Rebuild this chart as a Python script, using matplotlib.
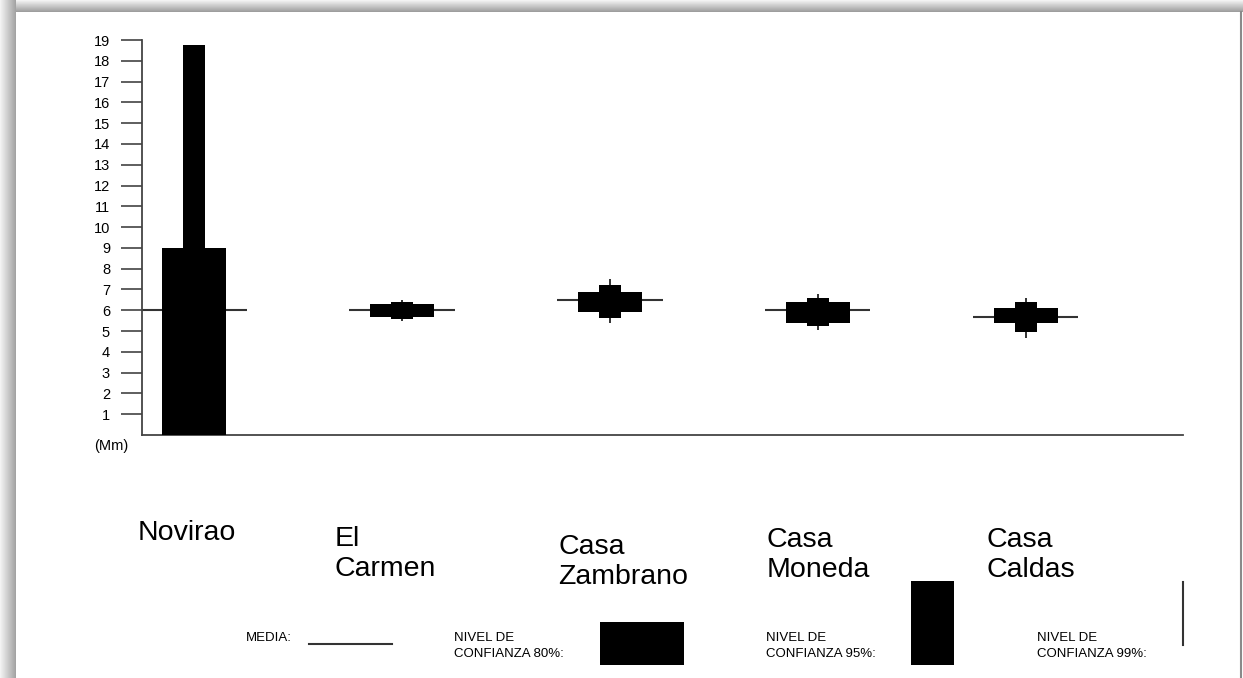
import matplotlib
matplotlib.use("Agg")
import matplotlib.pyplot as plt
import numpy as np

plt.rcParams['font.family'] = ['Liberation Sans', 'DejaVu Sans']

# datos por estacion (mm)
estaciones = ['Novirao', 'El\nCarmen', 'Casa\nZambrano', 'Casa\nMoneda', 'Casa\nCaldas']
media = [6.0, 6.0, 6.5, 6.0, 5.7]
ic80_inf = [0.0, 5.7, 5.93, 5.4, 5.37]
ic80_sup = [9.0, 6.3, 6.89, 6.41, 6.09]
ic95_inf = [0.0, 5.6, 5.64, 5.24, 4.95]
ic95_sup = [18.75, 6.4, 7.2, 6.57, 6.39]
ic99_inf = [0.0, 5.5, 5.37, 5.05, 4.66]
ic99_sup = [18.75, 6.5, 7.5, 6.78, 6.58]
yticks = list(range(1, 20))

W, H = 1243, 678
fig = plt.figure(figsize=(W / 100, H / 100), dpi=100)

# marco con sombra gris
bg = fig.add_axes([0, 0, 1, 1])
bg.axis('off')
top = np.linspace(0.95, 0.62, 12)[:, None] * np.ones((1, W))
bg.imshow(top, cmap='gray', vmin=0, vmax=1, extent=[0, W, 12, 0], aspect='auto')
left = np.ones((H, 1)) * np.linspace(0.95, 0.64, 16)[None, :]
bg.imshow(left, cmap='gray', vmin=0, vmax=1, extent=[0, 16, H, 0], aspect='auto')
bg.add_patch(plt.Rectangle((16, 12), 1225, H - 12, facecolor='white', edgecolor='none'))
bg.plot([1241.5, 1241.5], [12, H], color='#8a8a8a', lw=1.5)
bg.set_xlim(0, W)
bg.set_ylim(H, 0)

# grafico principal
ax = fig.add_axes([142 / W, 243 / H, 1041 / W, 395 / H])
ax.patch.set_alpha(0)
x = np.arange(len(estaciones))
ax.bar(x, np.array(ic95_sup) - np.array(ic95_inf), bottom=ic95_inf, width=0.106, color='black', zorder=3)
ax.bar(x, np.array(ic80_sup) - np.array(ic80_inf), bottom=ic80_inf, width=0.308, color='black', zorder=3)
ax.vlines(x, ic99_inf, ic99_sup, color='#222222', lw=1.3, zorder=2)
ax.hlines(media, x - 0.2525, x + 0.2525, color='#333333', lw=1.5, zorder=2)

ax.set_xlim(-0.25, 4.755)
ax.set_ylim(0, 19)
for s in ['top', 'right']:
    ax.spines[s].set_visible(False)
for s in ['left', 'bottom']:
    ax.spines[s].set_color('#444444')
    ax.spines[s].set_linewidth(1.3)
ax.set_xticks([])
ax.set_yticks(yticks)
ax.tick_params(axis='y', length=15, width=1.1, color='#333333', pad=8, labelsize=10.5)

fig.text(94 / W, 1 - 446 / H, '(Mm)', fontsize=10.5, va='center', ha='left')

# nombres de estaciones
label_px = [(138, 520), (335, 526), (558, 534), (767, 527), (987, 527)]
for nombre, (px, py) in zip(estaciones, label_px):
    fig.text(px / W, 1 - py / H, nombre, fontsize=20.5, va='top', ha='left', linespacing=1.22)

# leyenda
ley_font = dict(fontsize=9.5)
fig.text(246 / W, 1 - 638 / H, 'MEDIA:', va='center', ha='left', **ley_font)
bg.plot([309, 392], [644, 644], color='#333333', lw=1.5)
fig.text(454 / W, 1 - 646 / H, 'NIVEL DE\nCONFIANZA 80%:', va='center', ha='left', linespacing=1.35, **ley_font)
bg.add_patch(plt.Rectangle((600, 622), 84, 43, facecolor='black'))
fig.text(766 / W, 1 - 646 / H, 'NIVEL DE\nCONFIANZA 95%:', va='center', ha='left', linespacing=1.35, **ley_font)
bg.add_patch(plt.Rectangle((911, 581), 43, 84, facecolor='black'))
fig.text(1037 / W, 1 - 646 / H, 'NIVEL DE\nCONFIANZA 99%:', va='center', ha='left', linespacing=1.35, **ley_font)
bg.plot([1183, 1183], [582, 645], color='#333333', lw=1.5)

fig.savefig('out.png', dpi=100)
